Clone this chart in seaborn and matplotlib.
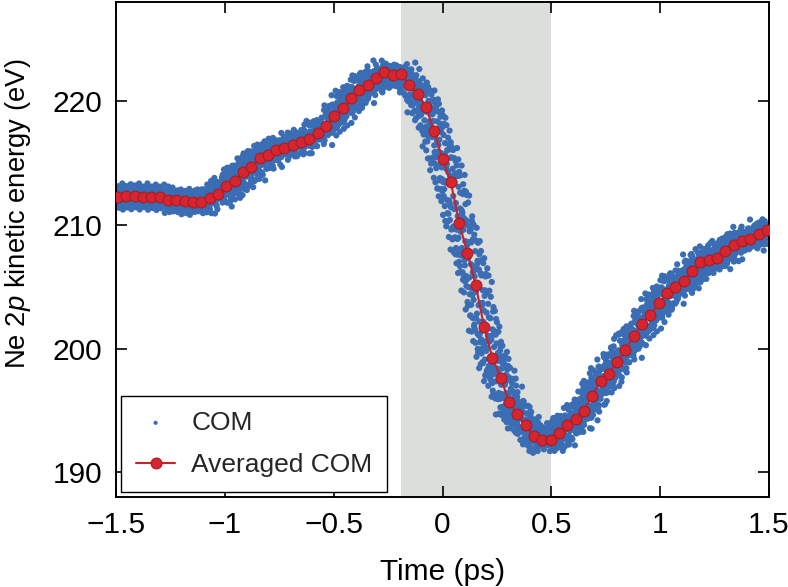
import numpy as np
import pandas as pd
import seaborn as sns
import matplotlib.pyplot as plt

# averaged centre-of-mass energy (eV), one value per time bin
avg_energy = [
    212.28, 212.34, 212.34, 212.28, 212.23, 212.26, 212.02, 212.00, 211.92, 211.85,
    211.85, 212.18, 212.47, 213.12, 213.55, 214.30, 214.70, 215.38, 215.65, 216.05,
    216.24, 216.45, 216.69, 216.96, 217.44, 217.96, 218.79, 219.41, 220.22, 220.86,
    221.29, 221.83, 222.34, 222.10, 222.20, 221.32, 220.56, 219.54, 217.56, 215.30,
    213.44, 210.16, 207.72, 205.10, 201.75, 199.27, 197.60, 195.70, 194.70, 193.82,
    192.90, 192.62, 192.64, 193.17, 193.82, 194.31, 194.95, 196.19, 197.34, 197.98,
    198.93, 199.92, 201.02, 201.96, 202.70, 203.65, 204.52, 205.00, 205.48, 206.24,
    206.96, 207.15, 207.31, 207.88, 208.36, 208.68, 208.87, 209.25, 209.60,
]
avg_time = np.linspace(-1.49, 1.49, len(avg_energy))

# single-shot COM cloud: spread estimated from the figure (energy noise and timing jitter)
shot_energy_offset = [0.07, -0.42, 0.63, -0.14, 0.28, -0.77, 0.49, -0.28, 0.14, -0.56, 0.84,
                      -0.07, 0.35, -0.49, 0.0, 0.56, -0.91, 0.21, -0.35, 0.42, -0.21, 0.7, -0.63,
                      0.1, -0.03, 0.31, -0.7, 0.52, -0.17, 0.24, -0.45, 1.0, -0.31, 0.03, -1.05,
                      0.38, -0.1, 0.6, -0.24, 0.17, -0.52]
shot_time_jitter = [0.0, 0.035, -0.025, 0.06, -0.05, 0.012, -0.065, 0.024, 0.048, -0.012, -0.035,
                    0.065, -0.06, 0.018, -0.03, 0.042, -0.054, 0.03, 0.0, -0.018, 0.054, -0.042,
                    0.062, -0.062, 0.006, 0.024, -0.012, 0.07, -0.07, 0.012, -0.024, 0.035,
                    -0.035, 0.048, -0.048, 0.058, -0.058]
n_shots = 3200

pump_window = (-0.19, 0.5)
x_ticks = [-1.5, -1, -0.5, 0, 0.5, 1, 1.5]
x_tick_labels = ["\u22121.5", "\u22121", "\u22120.5", "0", "0.5", "1", "1.5"]
y_ticks = [190, 200, 210, 220]

shot_time = np.linspace(-1.5, 1.5, n_shots)
shot_energy = (np.interp(shot_time + np.resize(shot_time_jitter, n_shots), avg_time, avg_energy)
               + np.resize(shot_energy_offset, n_shots))
shots = pd.DataFrame({"time": shot_time, "energy": shot_energy})
averaged = pd.DataFrame({"time": avg_time, "energy": avg_energy})

sns.set_theme(style="ticks")
plt.rcParams["font.family"] = ["Liberation Sans", "DejaVu Sans"]
plt.rcParams["mathtext.fontset"] = "custom"
plt.rcParams["mathtext.it"] = "Liberation Sans:italic"
plt.rcParams["mathtext.rm"] = "Liberation Sans"

fig = plt.figure(figsize=(7.88, 5.87), dpi=100)
ax = fig.add_axes([0.1472, 0.1533, 0.8287, 0.8432])

ax.axvspan(*pump_window, color="#dcdedb", lw=0, zorder=0)

sns.scatterplot(data=shots, x="time", y="energy", ax=ax, s=20, color="#3a6db3",
                edgecolor="none", label="COM", zorder=2)
sns.lineplot(data=averaged, x="time", y="energy", ax=ax, color="#c9212b", lw=1.5,
             marker="o", markersize=7.8, markerfacecolor="#d5252e", markeredgecolor="#a81c25",
             markeredgewidth=0.8, label="Averaged COM", zorder=3)

ax.set_xlim(-1.5, 1.5)
ax.set_ylim(188, 228)
ax.set_xticks(x_ticks)
ax.set_xticklabels(x_tick_labels)
ax.set_yticks(y_ticks)
ax.tick_params(direction="in", length=8, width=1.2, labelsize=21.5, top=True, right=True,
               color="black", labelcolor="black", pad=10)
for sp in ax.spines.values():
    sp.set_linewidth(1.4)
    sp.set_color("black")

ax.set_xlabel("Time (ps)", fontsize=21.5, color="black", labelpad=14)
ax.set_ylabel("Ne 2$p$ kinetic energy (eV)", fontsize=19.8, color="black")
ax.yaxis.set_label_coords(-0.127, 0.572)

leg = ax.legend(loc="lower left", fontsize=19, frameon=True, fancybox=False,
                edgecolor="black", framealpha=1, borderaxespad=0.2, borderpad=0.55,
                labelspacing=0.7, handlelength=1.5, handletextpad=0.6, markerscale=1)
leg.get_frame().set_linewidth(1.0)
leg.legend_handles[0].set_sizes([9])

fig.savefig("out.png", dpi=100)
